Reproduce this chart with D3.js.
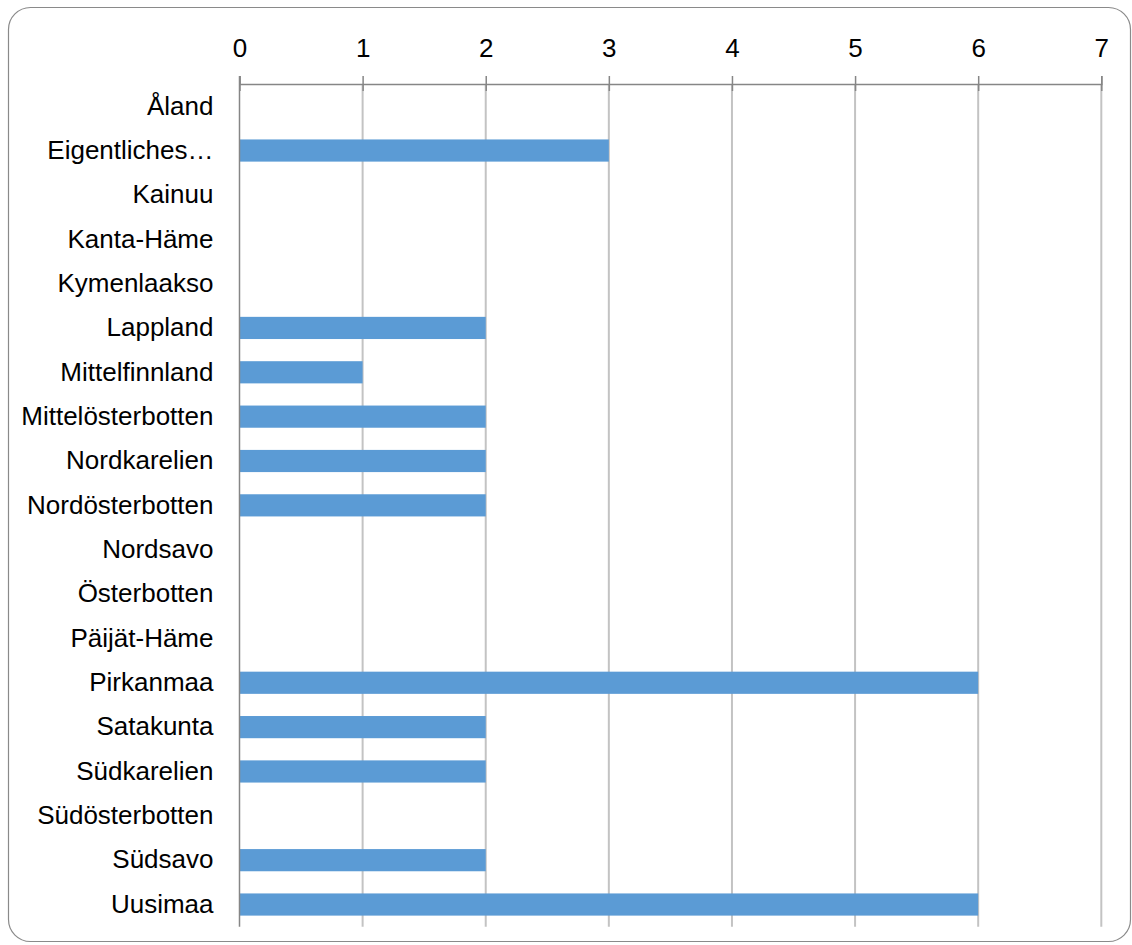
<!DOCTYPE html>
<html>
<head>
<meta charset="utf-8">
<script src="https://cdn.jsdelivr.net/npm/d3@7"></script>
<style>
html,body{margin:0;padding:0;background:#fff;}
svg{display:block;}
text{font-family:"Liberation Sans",Arial,sans-serif;fill:#000;}
</style>
</head>
<body>
<svg id="chart" width="1132" height="945"></svg>
<script>
const categories = ["Åland","Eigentliches…","Kainuu","Kanta-Häme","Kymenlaakso","Lappland","Mittelfinnland","Mittelösterbotten","Nordkarelien","Nordösterbotten","Nordsavo","Österbotten","Päijät-Häme","Pirkanmaa","Satakunta","Südkarelien","Südösterbotten","Südsavo","Uusimaa"];
const values = [0,3,0,0,0,2,1,2,2,2,0,0,0,6,2,2,0,2,6];
const tickValues = [0,1,2,3,4,5,6,7];

const svg = d3.select("#chart");
const W = 1132, H = 945;
const margin = {left:239.5, right:W-1101.3, top:84, bottom:H-926.7};
const FS = 26;

svg.append("rect")
  .attr("x",8.5).attr("y",7.5)
  .attr("width",1122).attr("height",934)
  .attr("rx",22).attr("ry",22)
  .attr("fill","#fff").attr("stroke","#8a8a8a").attr("stroke-width",1.2);

const x = d3.scaleLinear().domain([0,7]).range([margin.left, W-margin.right]);
const y = d3.scaleBand().domain(categories).range([margin.top, H-margin.bottom]).paddingInner(0.5).paddingOuter(0.25);

// gridlines
svg.append("g").selectAll("line").data(tickValues.filter(d=>d>0)).join("line")
  .attr("x1",d=>x(d)).attr("x2",d=>x(d))
  .attr("y1",margin.top).attr("y2",H-margin.bottom)
  .attr("stroke","#c3c3c3").attr("stroke-width",2);

// bars
svg.append("g").selectAll("rect").data(categories).join("rect")
  .attr("x",x(0))
  .attr("y",d=>y(d))
  .attr("width",(d,i)=>x(values[i])-x(0))
  .attr("height",y.bandwidth())
  .attr("fill","#5b9bd5");

// top axis
const xAxis = d3.axisTop(x).tickValues(tickValues).tickSize(8).tickPadding(19).tickFormat(d3.format("d"));
const gx = svg.append("g").attr("transform",`translate(0,${margin.top})`).call(xAxis);
gx.select(".domain").attr("stroke","#868686").attr("stroke-width",1.5);
gx.selectAll(".tick line").attr("stroke","#868686").attr("stroke-width",1.5).attr("y2",-8).attr("y1",7);
gx.selectAll(".tick text").attr("font-size",FS).attr("font-family","Liberation Sans, Arial, sans-serif").attr("fill","#000");

// left axis line
svg.append("line").attr("x1",x(0)).attr("x2",x(0)).attr("y1",margin.top-8).attr("y2",H-margin.bottom)
  .attr("stroke","#868686").attr("stroke-width",1.5);

// category labels
const yAxis = d3.axisLeft(y).tickSize(0).tickPadding(26);
const gy = svg.append("g").attr("transform",`translate(${x(0)},0)`).call(yAxis);
gy.select(".domain").remove();
gy.selectAll(".tick text").attr("font-size",FS).attr("font-family","Liberation Sans, Arial, sans-serif").attr("fill","#000");
</script>
</body>
</html>
